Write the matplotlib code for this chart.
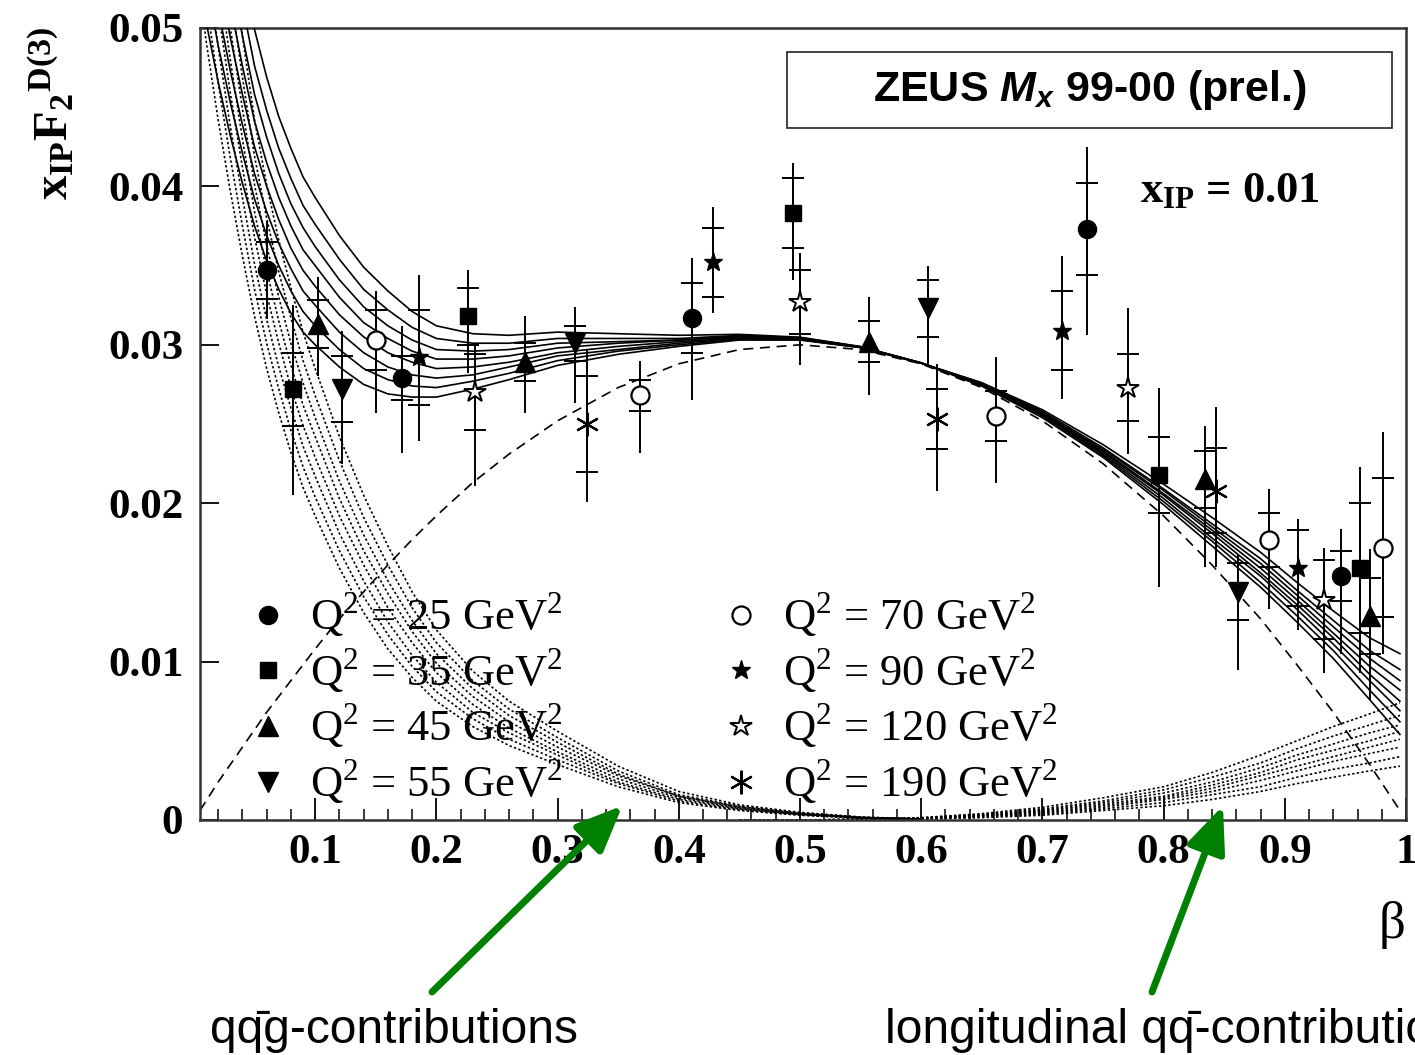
import numpy as np
import matplotlib
matplotlib.use("Agg")
import matplotlib.pyplot as plt
from matplotlib.patches import Rectangle
from matplotlib.ticker import FixedLocator, FixedFormatter, MultipleLocator

plt.rcParams['mathtext.fontset'] = 'custom'
plt.rcParams['mathtext.rm'] = 'Liberation Serif'
plt.rcParams['mathtext.bf'] = 'Liberation Serif:bold'
plt.rcParams['mathtext.it'] = 'Liberation Sans:italic:bold'
plt.rcParams['mathtext.sf'] = 'Liberation Sans'

# ---------------- data ----------------
q2_values = [25, 35, 45, 55, 70, 90, 120, 190]

beta_pts = [
    [0.060, 0.172, 0.411, 0.737, 0.946],   # Q2=25
    [0.082, 0.226, 0.494, 0.796, 0.962],   # 35
    [0.102, 0.273, 0.557, 0.834, 0.970],   # 45
    [0.122, 0.314, 0.606, 0.861],          # 55
    [0.150, 0.368, 0.662, 0.887, 0.981],   # 70
    [0.186, 0.428, 0.716, 0.911],          # 90
    [0.232, 0.500, 0.771, 0.932],          # 120
    [0.324, 0.613, 0.843],                 # 190
]
f2_pts = [
    [0.0347, 0.0279, 0.0317, 0.0373, 0.0154],
    [0.0272, 0.0318, 0.0383, 0.0218, 0.0159],
    [0.0313, 0.0289, 0.0302, 0.0215, 0.0129],
    [0.0272, 0.0301, 0.0323, 0.0144],
    [0.0303, 0.0268, 0.0255, 0.0177, 0.0172],
    [0.0292, 0.0352, 0.0309, 0.0159],
    [0.0270, 0.0327, 0.0273, 0.0139],
    [0.0250, 0.0253, 0.0208],
]
stat_err = [
    [0.0018, 0.0014, 0.0022, 0.0029, 0.0016],
    [0.0023, 0.0018, 0.0022, 0.0024, 0.0041],
    [0.0015, 0.0012, 0.0013, 0.0018, 0.0024],
    [0.0021, 0.0011, 0.0018, 0.0018],
    [0.0019, 0.0010, 0.0016, 0.0017, 0.0044],
    [0.0030, 0.0022, 0.0025, 0.0024],
    [0.0024, 0.0020, 0.0021, 0.0025],
    [0.0030, 0.0019, 0.0027],
]
tot_err_lo = [
    [0.0031, 0.0047, 0.0052, 0.0067, 0.0049],
    [0.0067, 0.0036, 0.0042, 0.0071, 0.0066],
    [0.0033, 0.0032, 0.0034, 0.0055, 0.0053],
    [0.0047, 0.0038, 0.0037, 0.0049],
    [0.0046, 0.0036, 0.0042, 0.0044, 0.0067],
    [0.0053, 0.0032, 0.0043, 0.0039],
    [0.0059, 0.0040, 0.0042, 0.0046],
    [0.0049, 0.0045, 0.0048],
]
tot_err_hi = [
    [0.0031, 0.0033, 0.0038, 0.0052, 0.0030],
    [0.0053, 0.0029, 0.0032, 0.0055, 0.0064],
    [0.0030, 0.0029, 0.0028, 0.0034, 0.0042],
    [0.0037, 0.0023, 0.0027, 0.0024],
    [0.0031, 0.0022, 0.0037, 0.0032, 0.0073],
    [0.0052, 0.0035, 0.0047, 0.0031],
    [0.0030, 0.0031, 0.0050, 0.0033],
    [0.0047, 0.0035, 0.0053],
]

# model curves (BEKW-type components)
beta_grid = [0.005, 0.01, 0.02, 0.03, 0.04, 0.05, 0.06, 0.07, 0.08, 0.09,
             0.10, 0.12, 0.14, 0.16, 0.18, 0.20, 0.23, 0.26, 0.30, 0.35,
             0.40, 0.45, 0.50, 0.55, 0.60, 0.65, 0.70, 0.75, 0.80, 0.84,
             0.88, 0.91, 0.94, 0.97, 0.995]
# transverse q-qbar (dashed)
trans_qq = [0.0006, 0.0012, 0.0024, 0.0035, 0.0046, 0.0057, 0.0068, 0.0078, 0.0088, 0.0098,
            0.0108, 0.0127, 0.0144, 0.0161, 0.0177, 0.0192, 0.0213, 0.0231, 0.0252, 0.0273,
            0.0288, 0.0297, 0.0300, 0.0297, 0.0288, 0.0273, 0.0252, 0.0225, 0.0192, 0.0161,
            0.0127, 0.0098, 0.0068, 0.0035, 0.0006]
# q-qbar-g contributions (dotted), on beta_grid[0:25], one row per Q2
qqg_curves = [
    [0.0525, 0.0492, 0.0442, 0.0397, 0.0356, 0.0318, 0.0285, 0.0257, 0.0232, 0.0210, 0.0192, 0.0159, 0.0131, 0.0108, 0.0090, 0.0075, 0.0059, 0.0047, 0.0035, 0.0021, 0.0011, 0.0006, 0.0003, 0.00012, 0.00004],
    [0.0552, 0.0518, 0.0465, 0.0418, 0.0375, 0.0335, 0.0301, 0.0272, 0.0246, 0.0223, 0.0204, 0.0170, 0.0141, 0.0117, 0.0097, 0.0081, 0.0064, 0.0051, 0.0038, 0.0023, 0.0012, 0.00065, 0.00032, 0.00013, 0.00004],
    [0.0580, 0.0543, 0.0488, 0.0438, 0.0393, 0.0351, 0.0316, 0.0286, 0.0260, 0.0236, 0.0217, 0.0181, 0.0151, 0.0125, 0.0104, 0.0087, 0.0068, 0.0055, 0.0041, 0.0024, 0.0013, 0.0007, 0.00035, 0.00014, 0.00005],
    [0.0607, 0.0569, 0.0511, 0.0459, 0.0412, 0.0368, 0.0332, 0.0301, 0.0273, 0.0249, 0.0229, 0.0192, 0.0161, 0.0134, 0.0112, 0.0093, 0.0073, 0.0058, 0.0043, 0.0026, 0.0014, 0.00074, 0.00037, 0.00015, 0.00005],
    [0.0634, 0.0594, 0.0534, 0.0480, 0.0430, 0.0384, 0.0347, 0.0315, 0.0287, 0.0262, 0.0242, 0.0203, 0.0170, 0.0143, 0.0119, 0.0099, 0.0078, 0.0062, 0.0046, 0.0028, 0.0015, 0.00079, 0.0004, 0.00016, 0.00005],
    [0.0662, 0.0620, 0.0557, 0.0500, 0.0449, 0.0401, 0.0363, 0.0330, 0.0301, 0.0276, 0.0254, 0.0214, 0.0180, 0.0151, 0.0126, 0.0105, 0.0083, 0.0066, 0.0049, 0.0029, 0.0015, 0.00084, 0.00042, 0.00017, 0.00006],
    [0.0692, 0.0649, 0.0583, 0.0523, 0.0469, 0.0419, 0.0380, 0.0346, 0.0317, 0.0290, 0.0268, 0.0227, 0.0191, 0.0161, 0.0134, 0.0112, 0.0088, 0.0070, 0.0052, 0.0031, 0.0016, 0.00089, 0.00045, 0.00018, 0.00006],
    [0.0730, 0.0684, 0.0614, 0.0552, 0.0495, 0.0442, 0.0401, 0.0366, 0.0336, 0.0308, 0.0285, 0.0242, 0.0205, 0.0173, 0.0144, 0.0120, 0.0094, 0.0075, 0.0056, 0.0034, 0.0018, 0.00096, 0.00048, 0.00019, 0.00006],
]
# longitudinal q-qbar contributions (dotted), on beta_grid[21:], one row per Q2
long_curves = [
    [0, 0, 0.00004, 0.00015, 0.0004, 0.0008, 0.0014, 0.0021, 0.0030, 0.0041, 0.0050, 0.0059, 0.0067, 0.0074],
    [0, 0, 0.00004, 0.00013, 0.00035, 0.0007, 0.0012, 0.0019, 0.0027, 0.0036, 0.0045, 0.0053, 0.0060, 0.0066],
    [0, 0, 0.00003, 0.00012, 0.00032, 0.00063, 0.0011, 0.0017, 0.0024, 0.0033, 0.0041, 0.0048, 0.0055, 0.0060],
    [0, 0, 0.00003, 0.00011, 0.00029, 0.00057, 0.0010, 0.0015, 0.0022, 0.0030, 0.0038, 0.0044, 0.0050, 0.0056],
    [0, 0, 0.00003, 0.0001, 0.00026, 0.00051, 0.0009, 0.0014, 0.0020, 0.0028, 0.0034, 0.0040, 0.0046, 0.0051],
    [0, 0, 0.00003, 0.00009, 0.00023, 0.00045, 0.0008, 0.0013, 0.0018, 0.0025, 0.0031, 0.0037, 0.0042, 0.0046],
    [0, 0, 0.00002, 0.00007, 0.00019, 0.00038, 0.0007, 0.0011, 0.0016, 0.0021, 0.0027, 0.0032, 0.0036, 0.0040],
    [0, 0, 0.00002, 0.00006, 0.00015, 0.0003, 0.0006, 0.0009, 0.0013, 0.0018, 0.0023, 0.0027, 0.0031, 0.0034],
]
# full model (solid) at large beta, on beta_grid[25:], one row per Q2
total_high = [
    [0.0276, 0.0259, 0.0237, 0.0212, 0.0191, 0.0169, 0.0150, 0.0132, 0.0115, 0.0105],
    [0.0276, 0.0258, 0.0235, 0.0209, 0.0187, 0.0165, 0.0145, 0.0126, 0.0107, 0.0095],
    [0.0275, 0.0257, 0.0234, 0.0208, 0.0185, 0.0162, 0.0142, 0.0122, 0.0102, 0.0088],
    [0.0275, 0.0257, 0.0233, 0.0206, 0.0183, 0.0159, 0.0139, 0.0118, 0.0097, 0.0082],
    [0.0275, 0.0256, 0.0232, 0.0205, 0.0181, 0.0156, 0.0136, 0.0115, 0.0092, 0.0075],
    [0.0275, 0.0256, 0.0231, 0.0203, 0.0178, 0.0154, 0.0133, 0.0111, 0.0088, 0.0069],
    [0.0274, 0.0255, 0.0230, 0.0201, 0.0176, 0.0150, 0.0129, 0.0107, 0.0082, 0.0062],
    [0.0274, 0.0254, 0.0229, 0.0199, 0.0173, 0.0147, 0.0125, 0.0102, 0.0076, 0.0054],
]

x_ticks = [0.1, 0.2, 0.3, 0.4, 0.5, 0.6, 0.7, 0.8, 0.9, 1.0]
x_ticklabels = ['0.1', '0.2', '0.3', '0.4', '0.5', '0.6', '0.7', '0.8', '0.9', '1']
y_ticks = [0, 0.01, 0.02, 0.03, 0.04, 0.05]
y_ticklabels = ['0', '0.01', '0.02', '0.03', '0.04', '0.05']

# ---------------- figure ----------------
W, H = 1415, 1055
fig = plt.figure(figsize=(W / 100, H / 100), dpi=100)
ax = fig.add_axes([200 / W, 235 / H, 1206 / W, 792 / H])
ax.set_xlim(0.005, 1.0)
ax.set_ylim(0, 0.05)

bg = np.array(beta_grid)
T = np.array(trans_qq)
n_qqg = len(qqg_curves[0])
i_long = len(beta_grid) - len(long_curves[0])
i_high = len(beta_grid) - len(total_high[0])

dotted = (0, (1.4, 1.4))
for i in range(len(q2_values)):
    # full model: transverse + qqg at small beta, read-off totals at large beta
    tot = T.copy()
    tot[:n_qqg] += np.array(qqg_curves[i])
    tot[i_high:] = total_high[i]
    ax.plot(bg, tot, color='black', lw=1.2, zorder=3)
    ax.plot(bg[:n_qqg], qqg_curves[i], color='black', lw=1.2, ls=dotted, zorder=2)
    ax.plot(bg[i_long:], long_curves[i], color='black', lw=1.2, ls=dotted, zorder=2)
ax.plot(bg, T, color='black', lw=1.2, ls=(0, (6, 4)), zorder=2)

styles = [
    dict(marker='o', ms=13, mfc='black', mec='black'),
    dict(marker='s', ms=12, mfc='black', mec='black'),
    dict(marker='^', ms=14, mfc='black', mec='black'),
    dict(marker='v', ms=14, mfc='black', mec='black'),
    dict(marker='o', ms=13, mfc='white', mec='black', mew=1.6),
    dict(marker='*', ms=14, mfc='black', mec='black'),
    dict(marker='*', ms=16, mfc='white', mec='black', mew=1.4),
    dict(marker=(6, 2, 0), ms=17, mfc='black', mec='black', mew=1.6),
]
handles = []
labels = []
for i, q2 in enumerate(q2_values):
    b = beta_pts[i]
    f = f2_pts[i]
    ax.errorbar(b, f, yerr=[tot_err_lo[i], tot_err_hi[i]], fmt='none', ecolor='black',
                elinewidth=1.4, capsize=0, zorder=4)
    ax.errorbar(b, f, yerr=stat_err[i], fmt='none', ecolor='black', elinewidth=1.4,
                capsize=8, capthick=1.4, zorder=4)
    h, = ax.plot(b, f, ls='none', zorder=5, **styles[i])
    handles.append(h)
    labels.append(r'Q$^{2}$ = %d GeV$^{2}$' % q2)

leg = ax.legend(handles, labels, ncol=2, loc='upper left', bbox_to_anchor=(0.038, 0.290),
                frameon=False, prop={'family': 'Liberation Serif', 'size': 32},
                handlelength=1.0, handletextpad=0.45, columnspacing=3.5,
                labelspacing=0.14, borderpad=0, borderaxespad=0)
leg.set_zorder(6)

# axes styling
for s in ax.spines.values():
    s.set_linewidth(1.8)
    s.set_color('#333333')
ax.xaxis.set_major_locator(FixedLocator(x_ticks))
ax.xaxis.set_major_formatter(FixedFormatter(x_ticklabels))
ax.xaxis.set_minor_locator(MultipleLocator(0.02))
ax.yaxis.set_major_locator(FixedLocator(y_ticks))
ax.yaxis.set_major_formatter(FixedFormatter(y_ticklabels))
ax.tick_params(axis='x', which='major', direction='in', length=16, width=1.3, pad=10,
               top=False)
ax.tick_params(axis='x', which='minor', direction='in', length=8, width=1.1, top=False)
ax.tick_params(axis='y', which='major', direction='in', length=14, width=1.3, pad=12,
               right=False)
for lab in ax.get_xticklabels() + ax.get_yticklabels():
    lab.set_fontfamily('Liberation Serif')
    lab.set_fontweight('bold')
    lab.set_fontsize(31)

# y label
ax.text(-0.122, 0.892, r'$\mathbf{x_{IP}F_{2}{}^{D(3)}}$', transform=ax.transAxes,
        rotation=90, ha='center', va='center', fontsize=35)
# beta label
fig.text(1392 / W, 1 - 925 / H, 'β', ha='center', va='center', fontsize=38,
         family='Liberation Serif')

# title box
ax.add_patch(Rectangle((0.4867, 0.8737), 0.5017, 0.096, transform=ax.transAxes,
                       fill=False, lw=1.2, ec='#222222', zorder=6))
ax.text(0.7376, 0.9217, r'ZEUS $M_x$ 99-00 (prel.)', transform=ax.transAxes,
        ha='center', va='center', fontsize=31, family='Liberation Sans',
        weight='bold', zorder=7)
ax.text(0.7794, 0.7803, r'$\mathbf{x_{IP}}$ = 0.01', transform=ax.transAxes,
        ha='left', va='baseline', fontsize=32, family='Liberation Serif',
        weight='bold', zorder=7)

# annotations with arrows
green = '#008000'
ap = dict(arrowstyle='-|>,head_length=1.4,head_width=0.6', lw=5, color=green,
          mutation_scale=20, shrinkA=0, shrinkB=0)
ax.annotate('', xy=(0.3535, 0.0009), xycoords='data',
            xytext=(432 / W, 1 - 992 / H), textcoords='figure fraction',
            arrowprops=ap, annotation_clip=False)
ax.annotate('', xy=(0.849, 0.0009), xycoords='data',
            xytext=(1152 / W, 1 - 992 / H), textcoords='figure fraction',
            arrowprops=ap, annotation_clip=False)
fig.text(210 / W, 1 - 1043 / H, 'qq\u0304g-contributions', ha='left', va='baseline',
         fontsize=34.5, family=['Liberation Sans', 'DejaVu Sans'])
fig.text(885 / W, 1 - 1043 / H, 'longitudinal qq\u0304-contributions', ha='left',
         va='baseline', fontsize=34.5, family=['Liberation Sans', 'DejaVu Sans'])

fig.savefig('out.png', dpi=100)
